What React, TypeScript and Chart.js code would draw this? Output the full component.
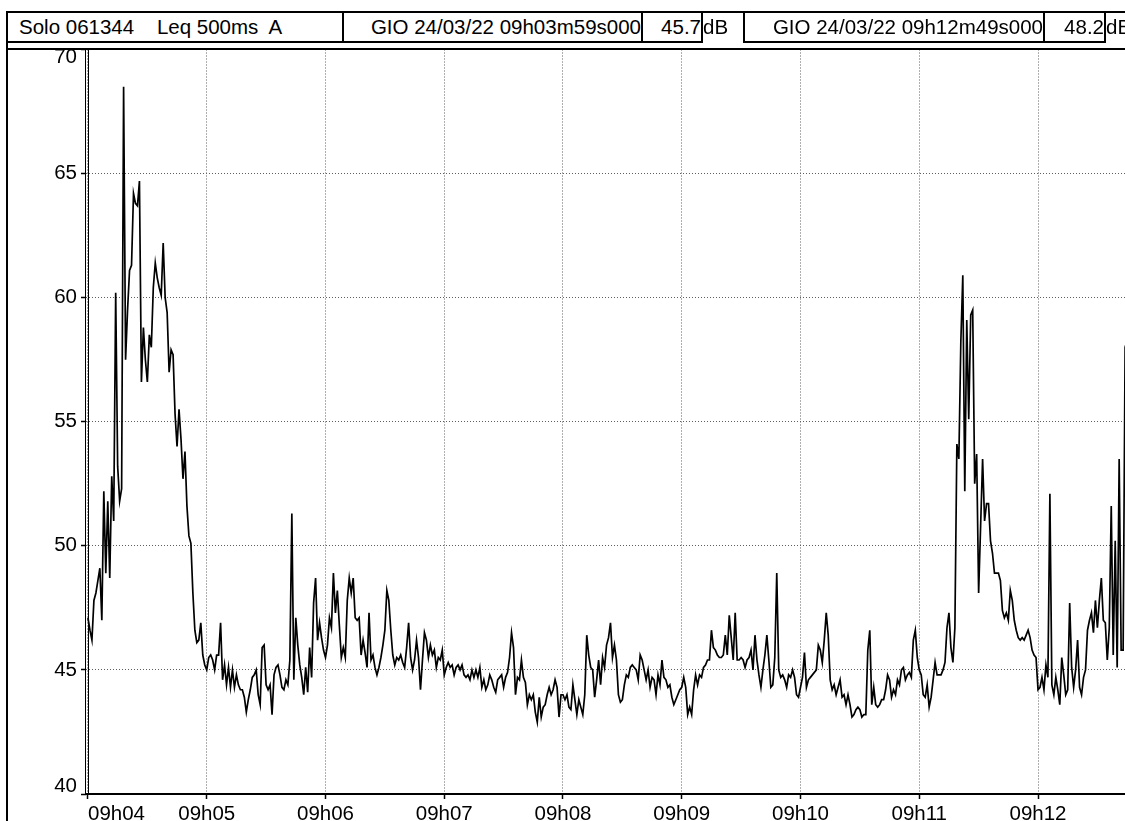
import React, { useEffect, useRef } from 'react';
import { Chart, registerables } from 'chart.js';

Chart.register(...registerables);

const FONT = '"Liberation Sans", Arial, Helvetica, sans-serif';

// time axis, seconds after 09h04m00s
const firstSampleSecond = 0;
const sampleStepSeconds = 1;
const axisStartSecond = -1; // 09h03m59s
const axisEndSecond = 529; // 09h12m49s
const minuteLabels = ['09h04', '09h05', '09h06', '09h07', '09h08', '09h09', '09h10', '09h11', '09h12'];

const yMin = 40;
const yMax = 70;
const yStep = 5;

// Leq 500ms A, dB (one value per second)
const levelsDb = [
  47.1, 46.6, 46.2, 47.8, 48.1, 48.6, 49.1, 47.0, 52.2, 48.9,
  51.8, 48.7, 52.8, 51.0, 60.2, 53.2, 51.8, 52.3, 68.5, 57.5,
  59.5, 61.1, 61.3, 64.2, 63.8, 63.7, 64.7, 56.6, 58.8, 57.5,
  56.6, 58.5, 58.0, 60.4, 61.4, 60.8, 60.4, 60.1, 62.2, 60.0,
  59.4, 57.0, 57.9, 57.7, 55.3, 54.0, 55.5, 54.3, 52.7, 53.8,
  51.6, 50.4, 50.1, 48.1, 46.6, 46.1, 46.2, 46.9, 45.6, 45.2,
  45.0, 45.5, 45.6, 45.4, 45.0, 45.6, 45.6, 46.9, 44.6, 45.2,
  44.4, 45.1, 44.3, 45.0, 44.3, 44.8, 44.4, 44.2, 44.2, 43.9,
  43.3, 43.8, 44.2, 44.7, 44.8, 45.0, 44.0, 43.6, 45.9, 46.0,
  44.4, 44.2, 44.4, 43.2, 44.8, 45.1, 45.2, 44.8, 44.3, 44.2,
  44.6, 44.4, 45.4, 51.3, 44.6, 47.1, 46.0, 45.2, 44.7, 44.0,
  45.1, 44.1, 45.9, 44.7, 47.7, 48.7, 46.2, 46.9, 46.3, 45.8,
  45.5, 46.0, 47.1, 46.7, 48.9, 47.3, 48.2, 46.8, 45.5, 45.9,
  45.5, 47.8, 48.7, 48.1, 48.7, 47.1, 47.0, 47.1, 45.6, 46.2,
  45.7, 45.1, 47.3, 45.4, 45.6, 45.1, 44.8, 45.1, 45.5, 46.0,
  46.6, 48.2, 47.8, 46.6, 45.6, 45.2, 45.5, 45.4, 45.6, 45.3,
  45.1, 45.9, 46.9, 45.5, 45.0, 45.4, 46.2, 45.5, 44.2, 45.4,
  46.5, 46.2, 45.5, 46.0, 45.6, 45.8, 45.1, 45.5, 45.4, 45.8,
  44.8, 45.1, 45.3, 45.1, 45.2, 44.8, 45.1, 45.2, 45.0, 45.2,
  44.8, 44.7, 44.8, 44.6, 45.0, 44.7, 45.0, 44.7, 45.1, 44.3,
  44.6, 44.2, 44.4, 44.8, 44.6, 44.3, 44.1, 44.6, 44.7, 44.8,
  44.3, 44.7, 44.9, 45.5, 46.5, 45.9, 44.0, 44.7, 44.6, 45.4,
  44.7, 44.5, 43.6, 44.0, 43.8, 44.0, 43.3, 42.9, 43.9, 43.1,
  43.5, 43.6, 44.0, 44.3, 44.0, 44.2, 44.6, 44.3, 43.1, 44.0,
  44.0, 43.8, 44.0, 43.5, 43.4, 44.4, 43.8, 43.2, 43.8, 43.5,
  43.2, 44.0, 46.4, 45.6, 45.1, 45.0, 43.9, 44.6, 45.4, 44.4,
  45.5, 45.1, 46.0, 46.3, 46.9, 45.5, 46.0, 45.4, 44.0, 43.7,
  43.8, 44.4, 44.8, 44.7, 45.1, 45.2, 45.1, 45.0, 44.6, 45.6,
  45.4, 45.0, 44.6, 45.0, 44.3, 44.7, 44.6, 44.0, 44.8, 44.4,
  45.4, 44.7, 44.6, 44.3, 44.4, 43.9, 43.6, 43.8, 44.0, 44.2,
  44.3, 44.7, 44.3, 43.2, 43.5, 43.2, 44.2, 44.8, 44.4, 44.8,
  44.7, 45.1, 45.2, 45.4, 45.4, 46.6, 45.9, 45.8, 45.6, 45.5,
  45.5, 45.6, 46.4, 45.6, 47.2, 46.3, 45.4, 47.3, 45.4, 45.4,
  45.5, 45.4, 45.1, 45.4, 45.5, 45.8, 45.0, 46.4, 45.4, 44.8,
  44.3, 45.0, 45.6, 46.4, 45.4, 44.3, 44.4, 45.5, 48.9, 45.0,
  44.7, 44.8, 44.6, 44.3, 44.8, 44.7, 45.0, 44.7, 44.0, 43.9,
  44.3, 44.7, 45.7, 44.3, 44.6, 44.7, 44.8, 44.9, 45.0, 46.0,
  45.8, 45.3, 46.2, 47.3, 46.4, 44.6, 44.2, 44.4, 44.0, 44.3,
  44.6, 43.9, 44.0, 43.6, 44.0, 43.6, 43.1, 43.2, 43.4, 43.5,
  43.4, 43.1, 43.2, 43.2, 45.8, 46.6, 43.6, 44.3, 43.6, 43.5,
  43.6, 43.8, 43.8, 44.2, 44.8, 44.6, 43.9, 44.2, 44.0, 44.6,
  44.4, 45.0, 45.1, 44.6, 44.8, 44.9, 44.7, 46.2, 46.6, 45.5,
  45.0, 44.8, 44.0, 43.9, 44.4, 43.5, 43.9, 44.6, 45.3, 44.8,
  44.8, 44.8, 45.0, 45.3, 46.7, 47.3, 45.9, 45.3, 46.7, 54.1,
  53.5, 58.2, 60.9, 52.2, 59.1, 55.1, 59.3, 59.5, 52.5, 53.7,
  48.1, 50.8, 53.5, 51.0, 51.7, 51.7, 50.2, 49.7, 48.9, 48.9,
  48.9, 48.6, 47.4, 47.1, 47.3, 47.0, 48.2, 47.8, 47.0, 46.6,
  46.3, 46.2, 46.3, 46.2, 46.4, 46.6, 46.3, 45.8, 45.6, 45.5,
  44.2, 44.3, 44.7, 44.2, 45.2, 44.7, 52.1, 44.4, 44.0, 44.7,
  44.2, 43.6, 45.5, 44.8, 44.0, 44.2, 47.7, 45.1, 44.3, 45.0,
  46.2, 44.3, 44.0, 44.7, 45.0, 46.6, 47.0, 47.3, 46.5, 47.8,
  46.7, 47.8, 48.7, 47.0, 46.9, 45.4, 46.7, 51.6, 45.6, 50.2,
  45.1, 53.5, 45.8, 45.8, 58.0, 58.3,
];

const headerInstrument = 'Solo 061344    Leq 500ms  A';
const cursorStartLabel = 'GIO 24/03/22 09h03m59s000';
const cursorStartValue = '45.7';
const cursorEndLabel = 'GIO 24/03/22 09h12m49s000';
const cursorEndValue = '48.2';
const unitLabel = 'dB';

const CANVAS_W = 1145;
const CANVAS_H = 821;

const framePlugin = {
  id: 'frame',
  afterDraw(chart: any) {
    const { ctx, chartArea, width, height } = chart;
    const left = Math.round(chartArea.left);
    const top = Math.round(chartArea.top);
    const bottom = Math.round(chartArea.bottom);
    ctx.save();
    ctx.fillStyle = '#000';
    ctx.fillRect(6, 11, 2, height);
    ctx.fillRect(6, top - 2, width, 2);
    ctx.fillRect(left - 1, top, 1, bottom - top + 1);
    ctx.fillRect(left + 2, top, 1, bottom - top + 1);
    ctx.fillRect(left - 1, bottom - 1, width, 2);
    ctx.restore();
  },
};

const boxBase: React.CSSProperties = {
  position: 'absolute',
  top: 11,
  height: 32,
  boxSizing: 'border-box',
  border: '2px solid #000',
  background: '#fff',
  font: `20.5px ${FONT}`,
  color: '#000',
  display: 'flex',
  alignItems: 'center',
  whiteSpace: 'pre',
  overflow: 'hidden',
  zIndex: 2,
};

const unitBase: React.CSSProperties = {
  position: 'absolute',
  top: 13,
  height: 28,
  display: 'flex',
  alignItems: 'center',
  font: `20.5px ${FONT}`,
  color: '#000',
  whiteSpace: 'pre',
  zIndex: 2,
};

export default function App() {
  const ref = useRef<HTMLCanvasElement>(null);

  useEffect(() => {
    const canvas = ref.current;
    if (!canvas) return;
    const points = levelsDb.map((v, i) => ({ x: firstSampleSecond + i * sampleStepSeconds, y: v }));
    const gridCommon = {
      color: '#5e5e5e',
      lineWidth: 1,
      tickColor: '#000',
      tickLength: 5,
      tickWidth: 1.5,
      tickBorderDash: [],
    };
    const chart = new Chart(canvas, {
      type: 'line',
      data: {
        datasets: [
          {
            data: points,
            borderColor: '#000',
            borderWidth: 1.7,
            pointRadius: 0,
            tension: 0,
            fill: false,
          },
        ],
      },
      options: {
        animation: false,
        responsive: false,
        devicePixelRatio: 1,
        events: [],
        layout: { padding: { left: 0, top: 49.5, right: 10, bottom: 0 } },
        plugins: { legend: { display: false }, tooltip: { enabled: false } },
        scales: {
          x: {
            type: 'linear',
            min: axisStartSecond,
            max: axisEndSecond,
            afterBuildTicks: (scale: any) => {
              scale.ticks = minuteLabels
                .map((_, i) => ({ value: i * 60 }))
                .concat([{ value: axisEndSecond }]);
            },
            afterFit: (scale: any) => {
              scale.height = 27;
            },
            ticks: {
              autoSkip: false,
              maxRotation: 0,
              minRotation: 0,
              align: 'inner',
              padding: 3,
              color: '#000',
              font: { family: FONT, size: 20.5 },
              callback: (value: any) => {
                const v = Number(value);
                const idx = Math.round(v / 60);
                if (Math.abs(v - idx * 60) < 1e-6 && idx < minuteLabels.length) return minuteLabels[idx];
                return '';
              },
            },
            grid: gridCommon,
            border: { display: false, dash: [1, 2] },
          },
          y: {
            min: yMin,
            max: yMax,
            afterFit: (scale: any) => {
              scale.width = 86;
            },
            ticks: {
              stepSize: yStep,
              padding: 4,
              color: '#000',
              font: { family: FONT, size: 20.5, lineHeight: 0.75 },
              callback: (value: any) => {
                const v = Number(value);
                if (v === yMax) return ['', String(v)];
                if (v === yMin) return [String(v), ''];
                return String(v);
              },
            },
            grid: gridCommon,
            border: { display: false, dash: [1, 2] },
          },
        },
      } as any,
      plugins: [framePlugin],
    });
    return () => chart.destroy();
  }, []);

  return (
    <div
      style={{
        position: 'fixed',
        left: 0,
        top: 0,
        width: 1125,
        height: 821,
        overflow: 'hidden',
        background: '#fff',
      }}
    >
      <canvas
        ref={ref}
        width={CANVAS_W}
        height={CANVAS_H}
        style={{ position: 'absolute', left: 0, top: 0, width: CANVAS_W, height: CANVAS_H }}
      />
      <div style={{ position: 'absolute', left: 6, top: 11, width: 1200, height: 2, background: '#000', zIndex: 3 }} />
      <div style={{ ...boxBase, left: 6, width: 338, paddingLeft: 11, justifyContent: 'flex-start' }}>
        {headerInstrument}
      </div>
      <div style={{ ...boxBase, left: 342, width: 301, justifyContent: 'flex-end' }}>{cursorStartLabel}</div>
      <div style={{ ...boxBase, left: 641, width: 62, justifyContent: 'flex-end' }}>{cursorStartValue}</div>
      <div style={{ ...unitBase, left: 703 }}>{unitLabel}</div>
      <div style={{ ...boxBase, left: 743, width: 302, justifyContent: 'flex-end' }}>{cursorEndLabel}</div>
      <div style={{ ...boxBase, left: 1043, width: 63, justifyContent: 'flex-end' }}>{cursorEndValue}</div>
      <div style={{ ...unitBase, left: 1106 }}>{unitLabel}</div>
    </div>
  );
}
